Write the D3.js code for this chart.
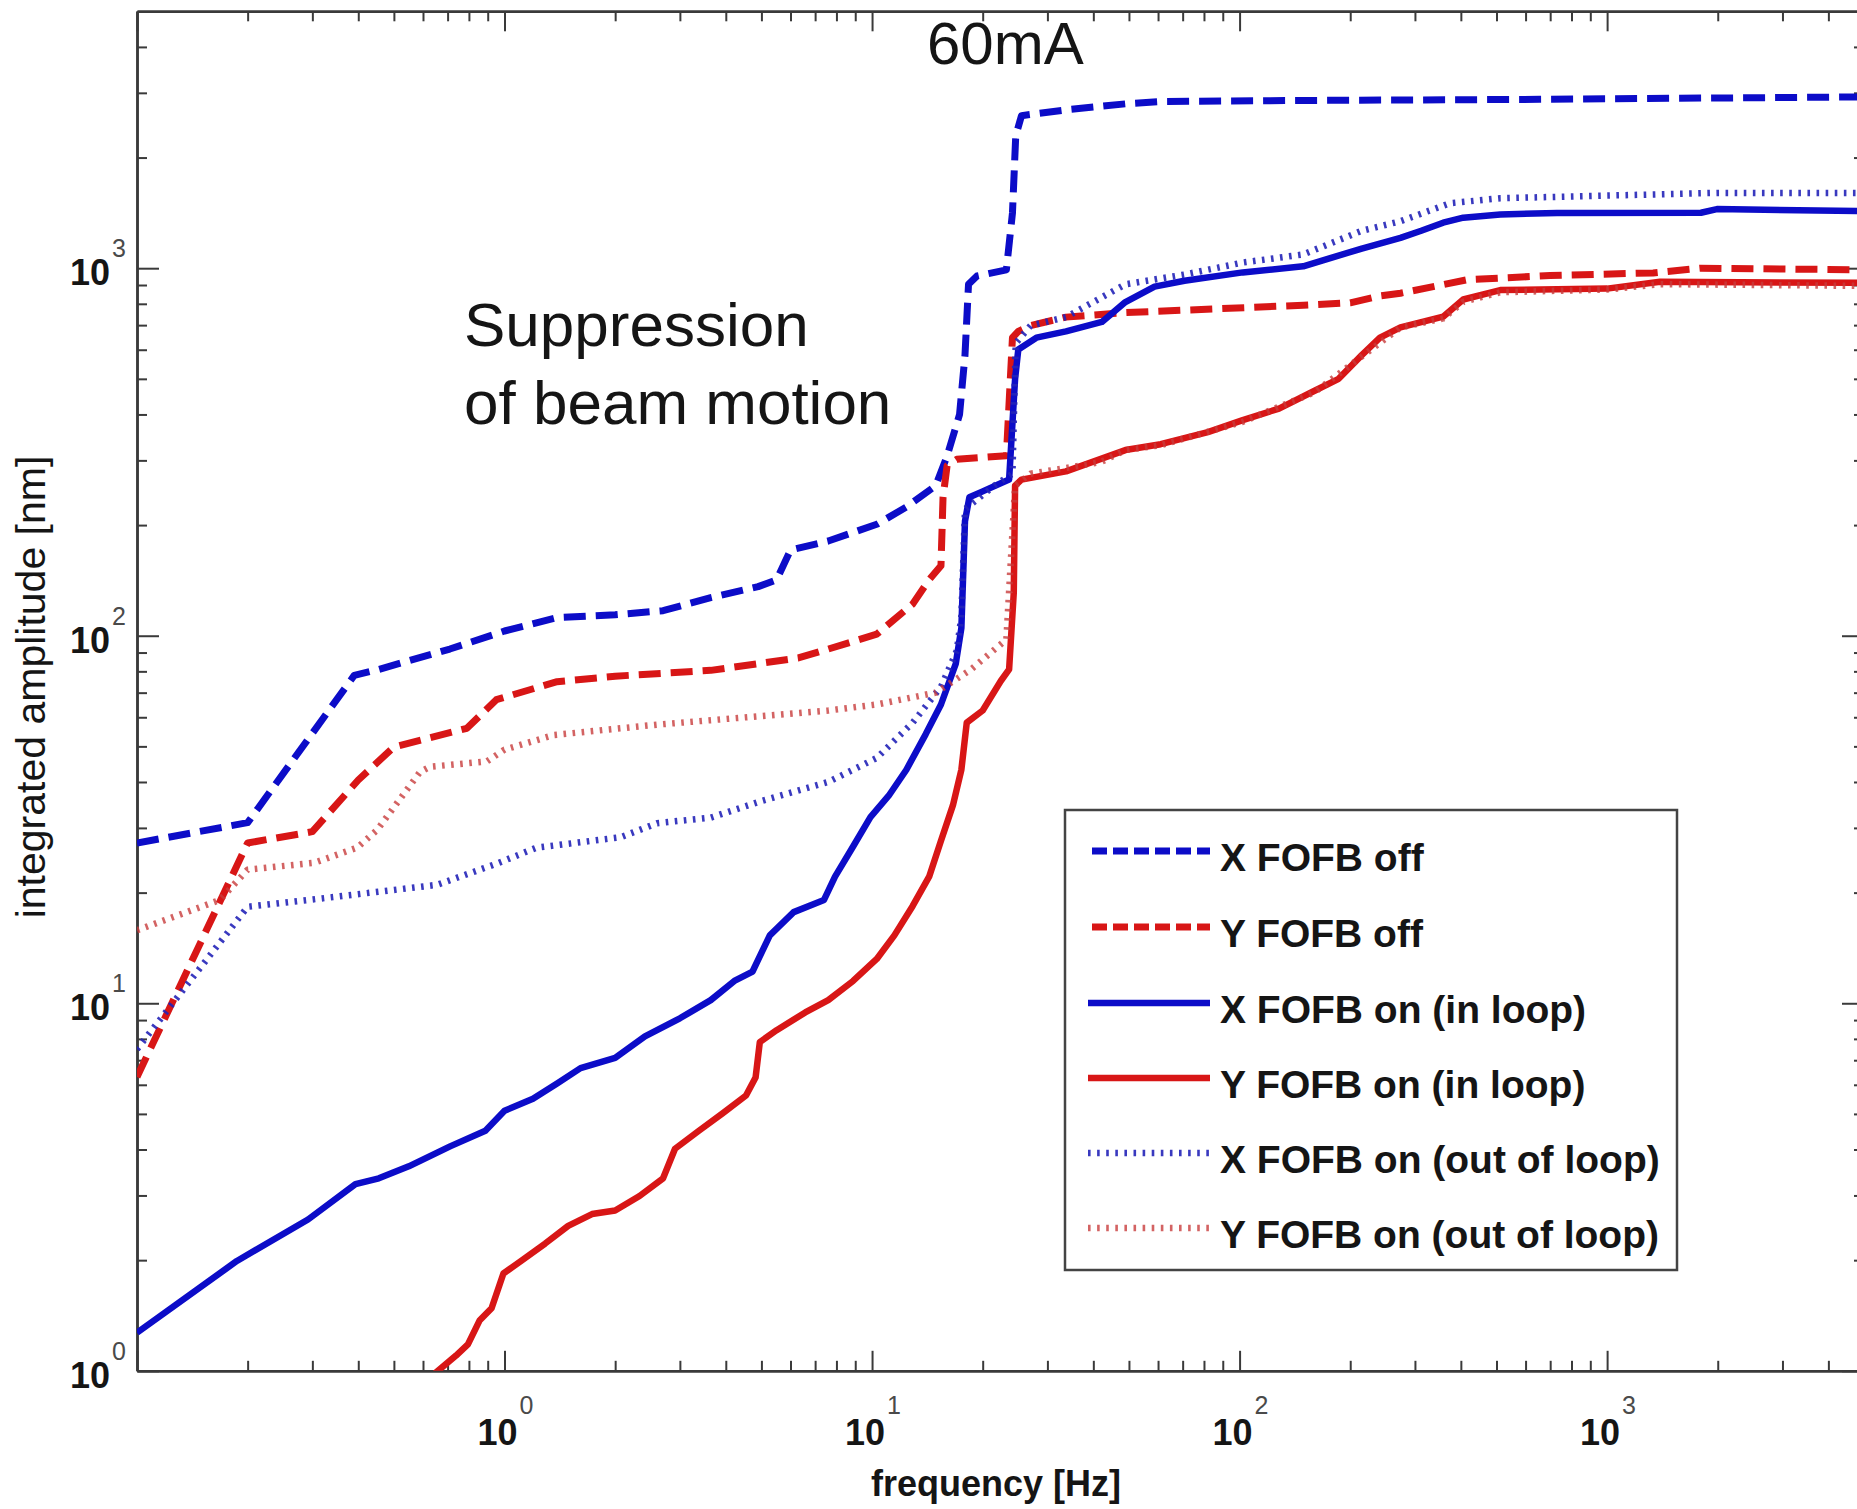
<!DOCTYPE html>
<html>
<head>
<meta charset="utf-8">
<script src="https://cdn.jsdelivr.net/npm/d3@7"></script>
<style>
  html, body { margin: 0; padding: 0; background: #fff; }
  svg { display: block; font-family: "Liberation Sans", Arial, sans-serif; }
</style>
</head>
<body>
<svg id="chart" width="1857" height="1509"></svg>
<script>
// ---------------- data (frequency [Hz], integrated amplitude [nm]) ----------------
const xFofbOff = [[0.1,27.3],[0.2,31],[0.39,78],[0.455,81],[0.71,92],[1.0,103],[1.39,112],[2.0,114],[2.7,117],[3.64,127],[4.9,136],[5.5,142],[6.0,171],[7.6,181],[10.3,201],[12.4,224],[14.9,256],[16.0,308],[17.3,400],[17.9,580],[18.3,904],[19.3,952],[23.2,990],[24.1,1413],[24.6,2290],[25.5,2600],[33.7,2697],[48.9,2800],[61,2840],[149,2860],[656,2880],[5000,2925]];
const yFofbOff = [[0.1,6.3],[0.2,27.3],[0.3,29.3],[0.4,40.5],[0.5,49.8],[0.79,56],[0.95,67],[1.39,75],[2.0,77.6],[3.64,80.5],[6.3,87],[7.6,92],[10.3,101],[12.9,122],[14.3,142],[15.4,155],[15.6,238],[16.0,290],[17.0,302],[23.2,309],[24.1,647],[25.0,673],[27,698],[33.7,736],[48.9,757],[70.8,769],[149,793],[200,805],[240,840],[274,855],[416,930],[700,955],[1334,971],[1790,1000],[5000,990]];
const xFofbOnIn = [[0.1,1.27],[0.187,1.99],[0.292,2.58],[0.393,3.22],[0.455,3.34],[0.549,3.6],[0.711,4.08],[0.887,4.5],[1.0,5.1],[1.195,5.5],[1.39,6.05],[1.61,6.66],[2.0,7.1],[2.41,8.13],[3.0,9.1],[3.64,10.2],[4.22,11.5],[4.73,12.2],[5.27,15.3],[6.12,17.7],[7.4,19.1],[7.93,22.1],[8.88,26.7],[9.9,32.1],[11.1,36.7],[12.4,43.2],[14.0,54],[15.4,65],[16.9,84],[17.5,105],[17.9,205],[18.4,238],[20,247],[23.6,266],[24.5,500],[25.0,601],[28,647],[33.7,673],[42.2,714],[48.9,809],[58.7,891],[70.8,924],[102,974],[149,1012],[215,1131],[274,1209],[312,1264],[358,1330],[406,1372],[512,1400],[731,1413],[1800,1415],[1990,1448],[5000,1430]];
const yFofbOnIn = [[0.62,0.95],[0.738,1.1],[0.795,1.18],[0.855,1.37],[0.922,1.48],[0.993,1.84],[1.11,1.99],[1.29,2.22],[1.49,2.48],[1.73,2.67],[2.0,2.73],[2.33,2.99],[2.7,3.34],[2.91,4.02],[3.38,4.5],[3.92,5.02],[4.54,5.61],[4.82,6.28],[4.95,7.84],[5.5,8.45],[6.58,9.44],[7.6,10.2],[8.88,11.5],[10.3,13.2],[11.5,15.3],[12.9,18.4],[14.3,22.1],[15.4,27.7],[16.6,34.6],[17.5,43.2],[18.1,58],[20,62.6],[22.4,75.3],[23.6,81],[24.3,131],[24.5,256],[25.5,266],[33.7,280],[48.9,320],[61,332],[82,358],[102,386],[128,415],[160,464],[186,500],[215,580],[241,647],[274,690],[358,738],[406,822],[512,872],[1000,880],[1393,919],[5000,912]];
const xFofbOnOut = [[0.1,7.5],[0.2,18.3],[0.35,19.5],[0.655,21],[0.955,24],[1.22,26.5],[2.07,28.3],[2.6,30.9],[3.64,32],[5,35.5],[7.6,40],[10.3,46.5],[12.9,58],[15.4,72.6],[17,91],[17.5,113],[17.9,221],[21.5,256],[24.1,276],[24.6,625],[27,698],[33.7,736],[48.9,904],[70.8,961],[102,1036],[149,1090],[215,1264],[274,1342],[374,1503],[512,1550],[1990,1603],[5000,1603]];
const yFofbOnOut = [[0.1,15.8],[0.168,19.1],[0.2,23.1],[0.303,24.1],[0.397,26.5],[0.45,29.6],[0.589,42.6],[0.626,44],[0.895,45.5],[1.0,49],[1.365,53.7],[2.6,57.3],[7.6,62.6],[10.3,65],[14.9,70],[18.6,81],[23.2,97.7],[24.5,256],[27,276],[33.7,286],[42,297],[48.9,320],[61,330],[102,382],[160,460],[215,575],[274,690],[358,730],[406,810],[512,860],[1000,875],[1393,905],[5000,895]];

const seriesNames = ["X FOFB off","Y FOFB off","X FOFB on (in loop)","Y FOFB on (in loop)","X FOFB on (out of loop)","Y FOFB on (out of loop)"];
const xMajorTicks = [0.1, 1, 10, 100, 1000];
const xTickLabels = [{v:1,e:"0"},{v:10,e:"1"},{v:100,e:"2"},{v:1000,e:"3"}];
const yMajorTicks = [1, 10, 100, 1000];
const yTickLabels = [{v:1,e:"0"},{v:10,e:"1"},{v:100,e:"2"},{v:1000,e:"3"}];
const titleText = "60mA";
const annotationLines = ["Suppression","of beam motion"];
const xLabel = "frequency [Hz]";
const yLabel = "integrated amplitude [nm]";

// ---------------- layout ----------------
const svg = d3.select("#chart");
const L = 137, R = 1864, T = 11.3, B = 1370.8;
const x = d3.scaleLog().domain([0.1, 5000]).range([L, R]);
const y = d3.scaleLog().domain([1, 5000]).range([B, T]);

const BLUE = "#0c0cc8", RED = "#d81616";
const styles = [
  {color: BLUE, width: 7, dash: "22,10", op: 1},
  {color: RED,  width: 7, dash: "22,10", op: 1},
  {color: BLUE, width: 6.5, dash: null, op: 1},
  {color: RED,  width: 6.5, dash: null, op: 1},
  {color: "#2424b8", width: 6.5, dash: "2.6,6.5", op: 0.9},
  {color: "#c83c3c", width: 6.5, dash: "2.6,6.5", op: 0.8}
];
const allSeries = [xFofbOff, yFofbOff, xFofbOnIn, yFofbOnIn, xFofbOnOut, yFofbOnOut];

function minorsOf(maxV, minV) {
  const out = [];
  for (let k = -1; k <= 3; k++) for (let m = 2; m <= 9; m++) {
    const v = m * Math.pow(10, k);
    if (v > minV && v < maxV) out.push(v);
  }
  return out;
}
const xMinor = minorsOf(5000, 0.1);
const yMinor = minorsOf(5000, 1);

svg.append("defs").append("clipPath").attr("id", "plotclip")
  .append("rect").attr("x", L).attr("y", T).attr("width", R - L).attr("height", B - T);

// axes (box with inward ticks)
const axisColor = "#3a3a3a";
function styleAxis(g) {
  g.select(".domain").attr("stroke", axisColor).attr("stroke-width", 2.5);
  g.selectAll(".tick line").attr("stroke", axisColor).attr("stroke-width", 2);
  g.selectAll(".tick text").remove();
}
const mk = (axisFn, scale, vals, size) => axisFn(scale).tickValues(vals).tickSize(size).tickSizeOuter(0).tickFormat("");

svg.append("g").attr("transform", `translate(0,${B})`).call(mk(d3.axisBottom, x, xMajorTicks, -20)).call(styleAxis);
svg.append("g").attr("transform", `translate(0,${B})`).call(mk(d3.axisBottom, x, xMinor, -10)).call(styleAxis);
svg.append("g").attr("transform", `translate(0,${T})`).call(mk(d3.axisTop, x, xMajorTicks, -20)).call(styleAxis);
svg.append("g").attr("transform", `translate(0,${T})`).call(mk(d3.axisTop, x, xMinor, -10)).call(styleAxis);
svg.append("g").attr("transform", `translate(${L},0)`).call(mk(d3.axisLeft, y, yMajorTicks, -22)).call(styleAxis);
svg.append("g").attr("transform", `translate(${L},0)`).call(mk(d3.axisLeft, y, yMinor, -10)).call(styleAxis);
svg.append("g").attr("transform", `translate(${R},0)`).call(mk(d3.axisRight, y, yMajorTicks, -22)).call(styleAxis);
svg.append("g").attr("transform", `translate(${R},0)`).call(mk(d3.axisRight, y, yMinor, -10)).call(styleAxis);

// tick labels 10^k
const xl = svg.append("g").selectAll("g").data(xTickLabels).join("g");
xl.append("text").attr("x", d => x(d.v) + 13).attr("y", 1445).attr("text-anchor", "end")
  .attr("font-size", 36).attr("font-weight", "bold").attr("fill", "#151515").text("10");
xl.append("text").attr("x", d => x(d.v) + 15).attr("y", 1414)
  .attr("font-size", 25).attr("fill", "#4a4a4a").text(d => d.e);

const yl = svg.append("g").selectAll("g").data(yTickLabels).join("g");
yl.append("text").attr("x", 110).attr("y", d => y(d.v) + 17).attr("text-anchor", "end")
  .attr("font-size", 36).attr("font-weight", "bold").attr("fill", "#151515").text("10");
yl.append("text").attr("x", 112).attr("y", d => y(d.v) - 11)
  .attr("font-size", 25).attr("fill", "#4a4a4a").text(d => d.e);

// axis labels
svg.append("text").attr("x", 996).attr("y", 1496).attr("text-anchor", "middle")
  .attr("font-size", 36).attr("font-weight", "bold").attr("fill", "#151515").text(xLabel);
svg.append("text").attr("transform", "translate(45,687) rotate(-90)").attr("text-anchor", "middle")
  .attr("font-size", 41).attr("fill", "#151515").text(yLabel);

// series lines
const line = d3.line().x(d => x(d[0])).y(d => y(d[1]));
const plot = svg.append("g").attr("clip-path", "url(#plotclip)");
plot.selectAll("path").data(allSeries).join("path")
  .attr("d", line)
  .attr("fill", "none")
  .attr("stroke", (d, i) => styles[i].color)
  .attr("stroke-width", (d, i) => styles[i].width)
  .attr("stroke-dasharray", (d, i) => styles[i].dash)
  .attr("stroke-opacity", (d, i) => styles[i].op)
  .attr("stroke-linejoin", "round");

// title and annotation
svg.append("text").attr("x", 927).attr("y", 64).attr("font-size", 60).attr("fill", "#151515").text(titleText);
svg.append("g").selectAll("text").data(annotationLines).join("text")
  .attr("x", 464).attr("y", (d, i) => 346 + i * 78).attr("font-size", 62).attr("fill", "#151515").text(d => d);

// legend
const lg = svg.append("g");
lg.append("rect").attr("x", 1065).attr("y", 810).attr("width", 612).attr("height", 460)
  .attr("fill", "#fff").attr("stroke", "#444").attr("stroke-width", 2.5);
const rowY = [857, 933, 1009, 1084, 1159, 1234];
const rows = lg.selectAll("g.row").data(seriesNames).join("g").attr("class", "row");
rows.append("line")
  .attr("x1", (d, i) => i < 2 ? 1092 : 1088).attr("x2", 1210)
  .attr("y1", (d, i) => rowY[i] - 6).attr("y2", (d, i) => rowY[i] - 6)
  .attr("stroke", (d, i) => styles[i].color)
  .attr("stroke-width", (d, i) => styles[i].width)
  .attr("stroke-dasharray", (d, i) => i < 2 ? "15,6" : styles[i].dash)
  .attr("stroke-opacity", (d, i) => styles[i].op);
rows.append("text").attr("x", 1220).attr("y", (d, i) => rowY[i] + 14)
  .attr("font-size", 39).attr("font-weight", "bold").attr("fill", "#151515").text(d => d);
</script>
</body>
</html>
